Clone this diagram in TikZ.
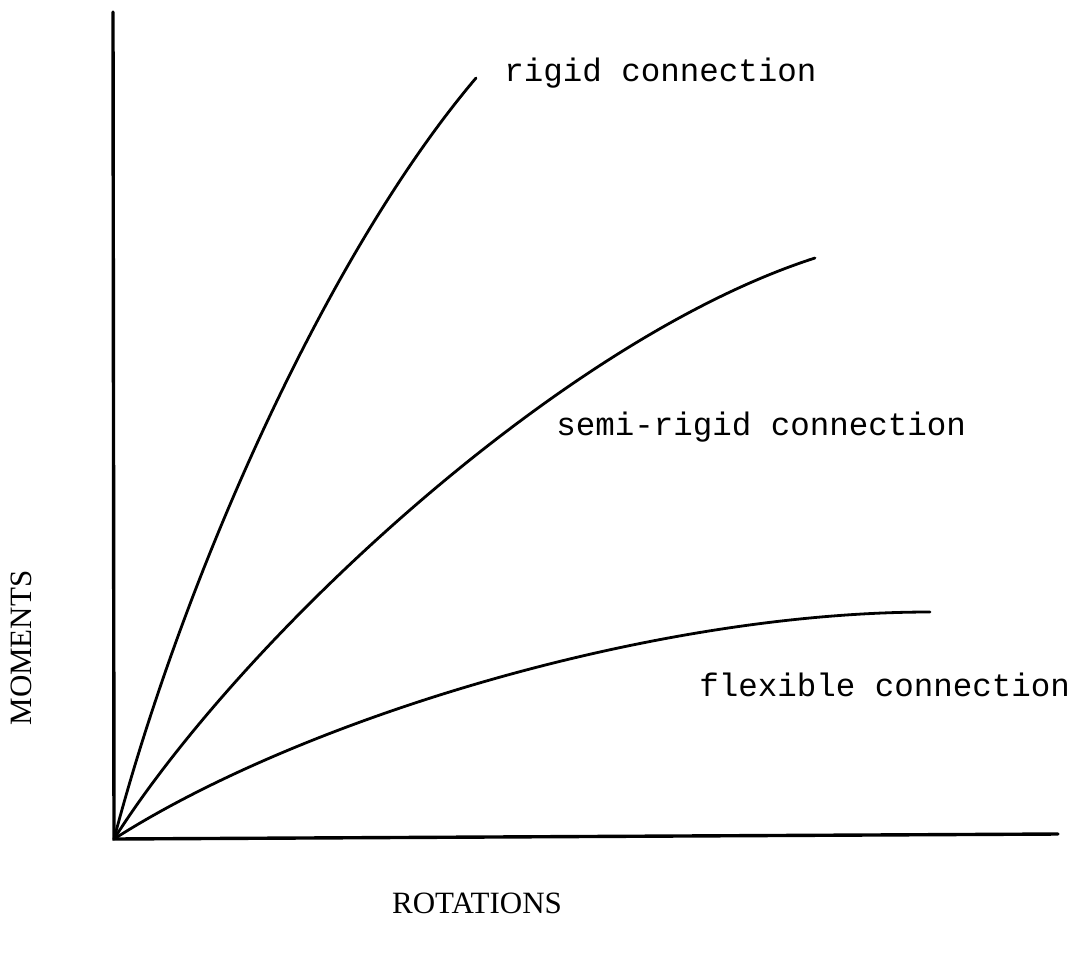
\documentclass[tikz,border=0pt]{standalone}
\usepackage{fontspec}
\setmainfont{Liberation Serif}
\setmonofont{Liberation Mono}
\usetikzlibrary{positioning}

\begin{document}
\begin{tikzpicture}[
  x=0.5pt, y=-0.5pt,
  axis/.style  ={line width=1.7pt, line cap=round},
  curve/.style ={line width=1.4pt, line cap=round},
  tag/.style   ={font=\fontsize{16.25}{18}\selectfont\ttfamily, inner sep=0pt},
  ttl/.style   ={font=\fontsize{15.5}{17}\selectfont, inner sep=0pt}
]
\useasboundingbox (0,0) rectangle (1085,952);

% axes
\coordinate (o)   at (114,839);
\coordinate (top) at (113,12);
\coordinate (end) at (1058,834);
\draw[axis] (top) -- (o) -- (end);

% curve ends
\coordinate (rig) at (476,78);
\coordinate (sem) at (815,258);
\coordinate (flx) at (930,612);

\draw[curve] (o) .. controls (185,570) and (330,250) .. (rig);
\draw[curve] (o) .. controls (240,640) and (560,340) .. (sem);
\draw[curve] (o) .. controls (300,720) and (650,612) .. (flx);

% labels
\node[tag, anchor=base west] (lrig) at (504,82)  {rigid connection};
\node[tag, anchor=base west] (lsem) at (556,435) {semi-rigid connection};
\node[tag, anchor=base west] (lflx) at (699,696) {flexible connection};

\node[ttl, anchor=base] (xlab) at (477,913) {ROTATIONS};
\node[ttl, anchor=base, rotate=90] (ylab) at (31,648) {MOMENTS};
\end{tikzpicture}
\end{document}
